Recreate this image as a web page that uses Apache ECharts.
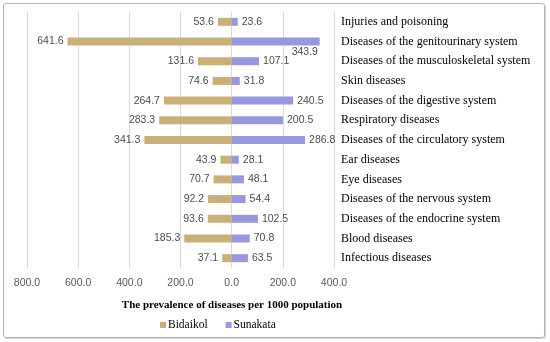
<!DOCTYPE html>
<html>
<head>
<meta charset="utf-8">
<script src="https://cdn.jsdelivr.net/npm/echarts@6/dist/echarts.min.js"></script>
<style>
  html, body { margin: 0; padding: 0; background: #fff; }
  #chart { width: 550px; height: 342px; position: relative; }
  #frame { position: absolute; left: 3px; top: 3px; width: 540px; height: 333px;
           border: 1px solid #b5b5b5; border-radius: 3px; box-shadow: 1px 1px 1px #d0d0d0; pointer-events: none; }
</style>
</head>
<body>
<div style="position:relative;width:550px;height:342px;">
  <div id="chart"></div>
  <div id="frame"></div>
</div>
<script>
const categories = [
  'Injuries and poisoning',
  'Diseases of the genitourinary system',
  'Diseases of the musculoskeletal system',
  'Skin diseases',
  'Diseases of the digestive system',
  'Respiratory diseases',
  'Diseases of the circulatory system',
  'Ear diseases',
  'Eye diseases',
  'Diseases of the nervous system',
  'Diseases of the endocrine system',
  'Blood diseases',
  'Infectious diseases'
];
const bidaikol = [53.6, 641.6, 131.6, 74.6, 264.7, 283.3, 341.3, 43.9, 70.7, 92.2, 93.6, 185.3, 37.1];
const sunakata = [23.6, 343.9, 107.1, 31.8, 240.5, 200.5, 286.8, 28.1, 48.1, 54.4, 102.5, 70.8, 63.5];
const axisTitle = 'The prevalence of diseases per 1000 population';

const valueFont = { color: '#4d4d4d', fontFamily: 'Liberation Sans', fontSize: 10.5 };

const chart = echarts.init(document.getElementById('chart'), null, { renderer: 'canvas' });
chart.setOption({
  animation: false,
  title: {
    text: axisTitle,
    left: 227, top: 295, textAlign: 'center',
    textStyle: { fontFamily: 'Liberation Serif', fontWeight: 'bold', fontSize: 11, color: '#000' }
  },
  legend: {
    data: ['Bidaikol', 'Sunakata'],
    left: 155, top: 314,
    icon: 'rect', itemWidth: 6, itemHeight: 6, itemGap: 18,
    textStyle: { fontFamily: 'Liberation Serif', fontSize: 11.5, color: '#000', padding: [0, 0, 0, -3] }
  },
  grid: { left: 27, right: 216, top: 12, bottom: 74, containLabel: false },
  xAxis: {
    type: 'value', min: -800, max: 400, interval: 200,
    axisLine: { show: false }, axisTick: { show: false },
    splitLine: { show: true, lineStyle: { color: '#d9d9d9', width: 1 } },
    axisLabel: {
      margin: 10, color: '#595959', fontFamily: 'Liberation Sans', fontSize: 10.5,
      formatter: v => Math.abs(v).toFixed(1)
    }
  },
  yAxis: {
    type: 'category', data: categories, inverse: true, position: 'right',
    axisLine: { show: false }, axisTick: { show: false }, splitLine: { show: false },
    axisLabel: { margin: 7, align: 'left', color: '#000', fontFamily: 'Liberation Serif', fontSize: 12 }
  },
  series: [
    {
      name: 'Bidaikol', type: 'bar', stack: 'a', barWidth: 8,
      itemStyle: { color: '#c9b07a' },
      data: bidaikol.map(v => -v),
      label: { show: true, position: 'left', distance: 4, ...valueFont,
               formatter: p => Math.abs(p.value).toFixed(1) }
    },
    {
      name: 'Sunakata', type: 'bar', stack: 'a', barWidth: 8,
      itemStyle: { color: '#9898dc' },
      data: sunakata.map((v, i) => i === 1
        ? { value: v, label: { offset: [-32, 11] } }
        : v),
      label: { show: true, position: 'right', distance: 4, ...valueFont,
               formatter: p => p.value.toFixed(1) }
    }
  ]
});
</script>
</body>
</html>
